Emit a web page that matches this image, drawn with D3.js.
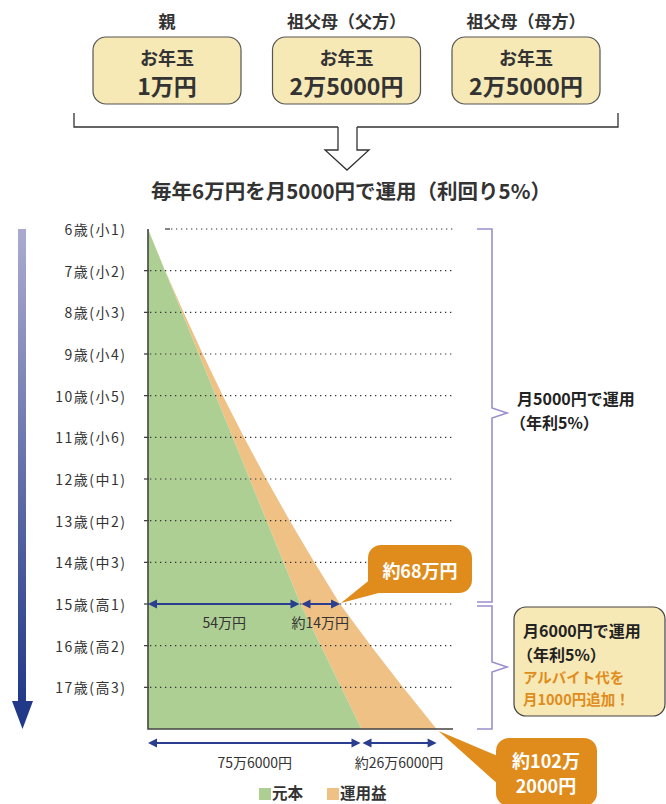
<!DOCTYPE html>
<html lang="ja">
<head>
<meta charset="utf-8">
<script src="https://cdn.jsdelivr.net/npm/d3@7"></script>
<style>
  html, body { margin: 0; padding: 0; background: #fff; }
  svg { display: block; font-family: "Noto Sans CJK JP", "Noto Sans", sans-serif; }
</style>
</head>
<body>
<svg id="chart" width="666" height="804"></svg>
<script>
// ---- data ----
const givers = ["親", "祖父母（父方）", "祖父母（母方）"];
const giftAmounts = ["1万円", "2万5000円", "2万5000円"];
const title = "毎年6万円を月5000円で運用（利回り5%）";

// ages at each row boundary (6歳 start → 18歳)
const ages = [6, 7, 8, 9, 10, 11, 12, 13, 14, 15, 16, 17, 18];
const gradeLabels = ["6歳(小1)", "7歳(小2)", "8歳(小3)", "9歳(小4)", "10歳(小5)", "11歳(小6)",
  "12歳(中1)", "13歳(中2)", "14歳(中3)", "15歳(高1)", "16歳(高2)", "17歳(高3)"];
// cumulative principal (万円)
const principal = [0, 6, 12, 18, 24, 30, 36, 42, 48, 54, 61.2, 68.4, 75.6];
// cumulative total incl. investment gains (万円)
const total = [0, 6.1, 12.6, 19.4, 26.5, 34.0, 41.9, 50.2, 58.9, 68.0, 78.9, 90.3, 102.2];

const seriesNames = ["元本", "運用益"];
const seriesColors = ["#aecf94", "#f0c185"];

const planLabels = [["月5000円で運用", "（年利5%）"], ["月6000円で運用", "（年利5%）"]];
const planNote = ["アルバイト代を", "月1000円追加！"];

// ---- helpers ----
const fmtMan = v => {
  const man = Math.floor(v + 1e-9);
  const rest = Math.round((v - man) * 10000);
  return rest ? `${man}万${rest}円` : `${man}万円`;
};

const svg = d3.select("#chart");
const ink = "#333";
const navy = "#2a3d8f";
const accent = "#e08c1c";
const cream = "#f7e9b6";

// ---- top: gift boxes ----
const boxX = d3.scalePoint().domain(d3.range(3)).range([167, 526]);
const headG = svg.append("g");
givers.forEach((g, i) => {
  const cx = boxX(i);
  headG.append("text").attr("x", cx).attr("y", 20).attr("text-anchor", "middle")
    .attr("dominant-baseline", "central").attr("font-size", 17).attr("font-weight", 700)
    .attr("fill", ink).text(g);
  headG.append("rect").attr("x", cx - 74).attr("y", 37).attr("width", 148).attr("height", 67)
    .attr("rx", 13).attr("fill", cream).attr("stroke", "#555").attr("stroke-width", 1.2);
  headG.append("text").attr("x", cx).attr("y", 57).attr("text-anchor", "middle")
    .attr("dominant-baseline", "central").attr("font-size", 18).attr("font-weight", 700)
    .attr("fill", ink).text("お年玉");
  headG.append("text").attr("x", cx).attr("y", 85).attr("text-anchor", "middle")
    .attr("dominant-baseline", "central").attr("font-size", 23).attr("font-weight", 700)
    .attr("fill", ink).text(giftAmounts[i]);
});
// bracket + hollow arrow
headG.append("path")
  .attr("d", "M74,113 V127 H338 M357,127 H618 V113")
  .attr("fill", "none").attr("stroke", ink).attr("stroke-width", 1.3);
headG.append("path")
  .attr("d", "M338,127 V150 H325 L347,170 L369,150 H357 V127")
  .attr("fill", "#fff").attr("stroke", ink).attr("stroke-width", 1.3);
headG.append("text").attr("x", 351).attr("y", 190).attr("text-anchor", "middle")
  .attr("dominant-baseline", "central").attr("font-size", 20.5).attr("font-weight", 700)
  .attr("fill", ink).text(title);

// ---- chart ----
const x = d3.scaleLinear().domain([0, 108]).range([148, 453]);
const y = d3.scaleLinear().domain([6, 18]).range([229, 729]);

const rows = ages.map((a, i) => ({ age: a, p: principal[i], t: total[i] }));

const areaP = d3.area().y(d => y(d.age)).x0(x(0)).x1(d => x(d.p));
const areaG = d3.area().y(d => y(d.age)).x0(d => x(d.p)).x1(d => x(d.t));

svg.append("path").datum(rows).attr("d", areaG).attr("fill", seriesColors[1]);
svg.append("path").datum(rows).attr("d", areaP).attr("fill", seriesColors[0]);

// left gradient arrow (time flow)
const defs = svg.append("defs");
const grad = defs.append("linearGradient").attr("id", "flow").attr("x1", 0).attr("x2", 0).attr("y1", 0).attr("y2", 1);
grad.append("stop").attr("offset", "0%").attr("stop-color", "#ababd0");
grad.append("stop").attr("offset", "100%").attr("stop-color", "#223888");
svg.append("rect").attr("x", 18).attr("y", y(6)).attr("width", 8).attr("height", 705 - y(6)).attr("fill", "url(#flow)");
svg.append("path").attr("d", "M12,701 L33,701 L22.5,729 Z").attr("fill", "#223888");

// grid rows (dotted) + ticks + labels
const grid = svg.append("g");
gradeLabels.forEach((lab, i) => {
  const a = ages[i];
  const yy = y(a);
  const startX = i === 0 ? 165 : 144;
  grid.append("line").attr("x1", startX).attr("x2", startX + 5).attr("y1", yy).attr("y2", yy)
    .attr("stroke", ink).attr("stroke-width", 1.2);
  grid.append("line").attr("x1", startX + 6).attr("x2", 453).attr("y1", yy).attr("y2", yy)
    .attr("stroke", ink).attr("stroke-width", 1.2).attr("stroke-dasharray", "1.3,3.7");
  grid.append("text").attr("x", 126.5).attr("y", yy).attr("text-anchor", "end")
    .attr("dominant-baseline", "central").attr("font-size", 14).attr("letter-spacing", 1.5)
    .attr("fill", ink).text(lab);
});

// axes lines
svg.append("path")
  .attr("d", `M${x(0)},${y(6)} V${y(18)} H${x(108)}`)
  .attr("fill", "none").attr("stroke", "#444").attr("stroke-width", 1.6);

// ---- dimension arrows ----
function dimArrow(x1, x2, yy) {
  const g = svg.append("g");
  const h = 9, w = 4.5;
  g.append("line").attr("x1", x1 + 2).attr("x2", x2 - 2).attr("y1", yy).attr("y2", yy)
    .attr("stroke", navy).attr("stroke-width", 1.8);
  g.append("path").attr("d", `M${x1},${yy} L${x1 + h},${yy - w} L${x1 + h},${yy + w} Z`).attr("fill", navy);
  g.append("path").attr("d", `M${x2},${yy} L${x2 - h},${yy - w} L${x2 - h},${yy + w} Z`).attr("fill", navy);
}
function dimLabel(cx, yy, t) {
  svg.append("text").attr("x", cx).attr("y", yy).attr("text-anchor", "middle")
    .attr("dominant-baseline", "central").attr("font-size", 14).attr("fill", ink).text(t);
}

const i15 = ages.indexOf(15);
const iEnd = ages.length - 1;
const y15 = y(15);
dimArrow(x(0), x(principal[i15]) - 1, y15);
dimArrow(x(principal[i15]) + 1, x(total[i15]), y15);
dimLabel((x(0) + x(principal[i15])) / 2, 622, fmtMan(principal[i15]));
dimLabel((x(principal[i15]) + x(total[i15])) / 2, 622, "約" + fmtMan(total[i15] - principal[i15]));

const yb = 743;
dimArrow(x(0), x(principal[iEnd]) - 1, yb);
dimArrow(x(principal[iEnd]) + 1, x(total[iEnd]), yb);
dimLabel((x(0) + x(principal[iEnd])) / 2, 762, fmtMan(principal[iEnd]));
dimLabel((x(principal[iEnd]) + x(total[iEnd])) / 2, 762, "約" + fmtMan(+(total[iEnd] - principal[iEnd]).toFixed(1)));

// ---- callouts ----
// 15歳 total
const c1 = svg.append("g");
c1.append("path").attr("d", `M372,578 L${x(total[i15]) + 1},${y15 - 1} L390,590 Z`).attr("fill", accent);
c1.append("rect").attr("x", 368).attr("y", 545).attr("width", 104).attr("height", 48).attr("rx", 13).attr("fill", accent);
c1.append("text").attr("x", 420).attr("y", 570).attr("text-anchor", "middle").attr("dominant-baseline", "central")
  .attr("font-size", 18).attr("font-weight", 700).attr("fill", "#fff").text("約" + fmtMan(total[i15]));

// 18歳 total
const endTxt = fmtMan(total[iEnd]);           // "102万2000円"
const cut = endTxt.indexOf("万") + 1;
const c2 = svg.append("g");
c2.append("path").attr("d", `M${x(total[iEnd]) + 2},${y(18) + 2} L500,757 L500,786 Z`).attr("fill", accent);
c2.append("rect").attr("x", 496).attr("y", 738).attr("width", 101).attr("height", 68).attr("rx", 13).attr("fill", accent);
c2.append("text").attr("x", 546).attr("y", 760).attr("text-anchor", "middle").attr("dominant-baseline", "central")
  .attr("font-size", 18).attr("font-weight", 700).attr("fill", "#fff").text("約" + endTxt.slice(0, cut));
c2.append("text").attr("x", 546).attr("y", 785).attr("text-anchor", "middle").attr("dominant-baseline", "central")
  .attr("font-size", 18).attr("font-weight", 700).attr("fill", "#fff").text(endTxt.slice(cut));

// ---- braces on the right ----
const braceCol = "#9c8fcb";
function brace(y1, y2, ym) {
  svg.append("path")
    .attr("d", `M477,${y1} H492 V${ym - 5} L507,${ym} L492,${ym + 5} V${y2} H477`)
    .attr("fill", "none").attr("stroke", braceCol).attr("stroke-width", 1.6);
}
brace(y(6), y(15) - 2, 413);
brace(y(15) + 2, y(18), 667);

svg.append("text").attr("x", 517).attr("y", 398).attr("dominant-baseline", "central")
  .attr("font-size", 16).attr("font-weight", 700).attr("fill", "#222").text(planLabels[0][0]);
svg.append("text").attr("x", 510).attr("y", 422).attr("dominant-baseline", "central")
  .attr("font-size", 16).attr("font-weight", 700).attr("fill", "#222").text(planLabels[0][1]);

svg.append("rect").attr("x", 514).attr("y", 607).attr("width", 151).attr("height", 109).attr("rx", 12)
  .attr("fill", cream).attr("stroke", "#444").attr("stroke-width", 1.2);
svg.append("text").attr("x", 523).attr("y", 630).attr("dominant-baseline", "central")
  .attr("font-size", 16).attr("font-weight", 700).attr("fill", "#222").text(planLabels[1][0]);
svg.append("text").attr("x", 517).attr("y", 654).attr("dominant-baseline", "central")
  .attr("font-size", 16).attr("font-weight", 700).attr("fill", "#222").text(planLabels[1][1]);
svg.append("text").attr("x", 523).attr("y", 676).attr("dominant-baseline", "central")
  .attr("font-size", 14.5).attr("font-weight", 700).attr("fill", accent).text(planNote[0]);
svg.append("text").attr("x", 523).attr("y", 698).attr("dominant-baseline", "central")
  .attr("font-size", 14.5).attr("font-weight", 700).attr("fill", accent).text(planNote[1]);

// ---- legend ----
const legX = [259, 327];
seriesNames.forEach((n, i) => {
  svg.append("rect").attr("x", legX[i]).attr("y", 788).attr("width", 12).attr("height", 12).attr("fill", seriesColors[i]);
  svg.append("text").attr("x", legX[i] + 13).attr("y", 792).attr("dominant-baseline", "central")
    .attr("font-size", 15.5).attr("font-weight", 700).attr("fill", ink).text(n);
});
</script>
</body>
</html>
